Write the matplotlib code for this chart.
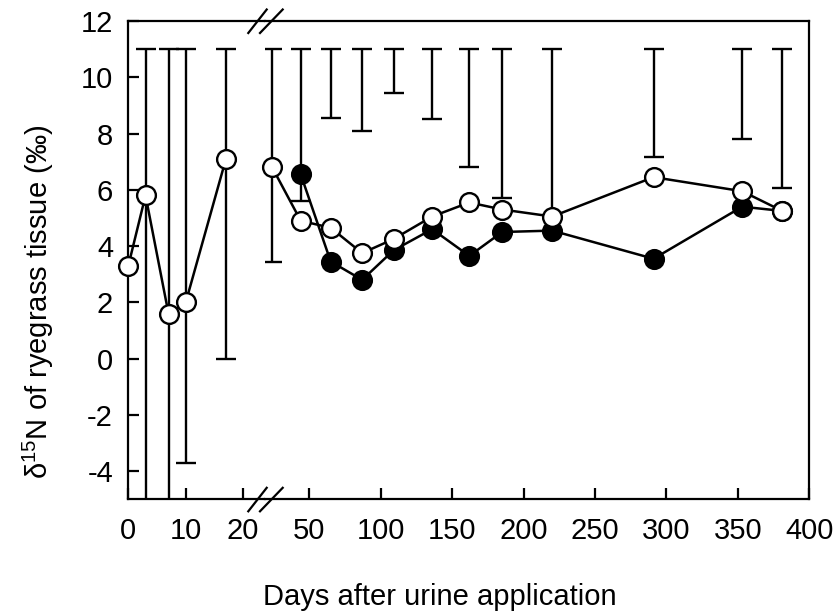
import matplotlib

matplotlib.use("Agg")

import matplotlib.pyplot as plt
import numpy as np

plt.rcParams["font.family"] = ["Liberation Sans", "DejaVu Sans"]
plt.rcParams["mathtext.default"] = "regular"
plt.rcParams["axes.unicode_minus"] = False

# early samplings (left of the axis break), open symbols only
early_days = [0, 3, 7, 10, 17]
early_open = [3.3, 5.8, 1.6, 2.0, 7.1]
early_err_days = [3, 7, 10, 17]
early_err_low = [-6.0, -6.0, -3.7, 0.0]
early_err_high = [11.0, 11.0, 11.0, 11.0]

# later samplings (right of the axis break)
late_open_days = [24, 44, 65, 87, 109, 136, 162, 185, 220, 291, 353, 381]
late_open = [6.8, 4.9, 4.65, 3.75, 4.25, 5.05, 5.55, 5.3, 5.05, 6.45, 5.95, 5.25]
late_filled_days = [44, 65, 87, 109, 136, 162, 185, 220, 291, 353, 381]
late_filled = [6.55, 3.45, 2.8, 3.85, 4.6, 3.65, 4.5, 4.55, 3.55, 5.4, 5.25]
late_err_days = [24, 44, 65, 87, 109, 136, 162, 185, 220, 291, 353, 381]
late_err_low = [3.45, 5.6, 8.55, 8.1, 9.45, 8.5, 6.8, 5.7, 5.1, 7.15, 7.8, 6.05]
late_err_high = [11.0, 11.0, 11.0, 11.0, 11.0, 11.0, 11.0, 11.0, 11.0, 11.0, 11.0, 11.0]

early_ticks = [0, 10, 20]
late_ticks = [50, 100, 150, 200, 250, 300, 350, 400]
y_ticks = [-4, -2, 0, 2, 4, 6, 8, 10, 12]

W, H = 840, 616
x0, xb, x1 = 128.3, 265.0, 809.3
y_top, y_bot = 21.0, 499.3
bottom = (H - y_bot) / H
height = (y_bot - y_top) / H

fig = plt.figure(figsize=(W / 100, H / 100), dpi=100)
ax_l = fig.add_axes([x0 / W, bottom, (xb - x0) / W, height])
ax_r = fig.add_axes([xb / W, bottom, (x1 - xb) / W, height])

line_kw = dict(color="black", linewidth=1.8, markersize=13.5, markeredgewidth=1.7,
               clip_on=False)
err_kw = dict(fmt="none", ecolor="black", elinewidth=1.7, capsize=7.2, capthick=1.7,
              zorder=1)


def draw_errors(ax, days, low, high):
    low = np.asarray(low)
    high = np.asarray(high)
    ax.errorbar(days, (low + high) / 2, yerr=(high - low) / 2, **err_kw)


draw_errors(ax_l, early_err_days, early_err_low, early_err_high)
ax_l.plot(early_days, early_open, marker="o", markerfacecolor="white", zorder=3, **line_kw)

draw_errors(ax_r, late_err_days, late_err_low, late_err_high)
ax_r.plot(late_filled_days, late_filled, marker="o", markerfacecolor="black", zorder=2,
          **line_kw)
ax_r.plot(late_open_days, late_open, marker="o", markerfacecolor="white", zorder=3,
          **line_kw)

ax_l.set_xlim(0, 23.8)
ax_r.set_xlim(19, 400)
for ax in (ax_l, ax_r):
    ax.set_ylim(-5, 12)
    for spine in ax.spines.values():
        spine.set_linewidth(1.6)
    ax.tick_params(direction="in", length=8, width=1.6, labelsize=21, pad=13)

ax_l.spines["right"].set_visible(False)
ax_r.spines["left"].set_visible(False)
ax_l.set_xticks(early_ticks)
ax_r.set_xticks(late_ticks)
ax_l.set_yticks(y_ticks)
ax_l.tick_params(axis="y", pad=11)
ax_r.set_yticks([])

# axis break marks on top and bottom spines
for y_pix in (y_top, y_bot):
    for dx0, dx1 in ((-16.7, 1.7), (-5.0, 17.7)):
        fig.add_artist(plt.Line2D(
            [(xb + dx0) / W, (xb + dx1) / W],
            [(H - y_pix - 12.0) / H, (H - y_pix + 11.5) / H],
            transform=fig.transFigure, color="black", linewidth=1.6,
        ))

fig.text(440 / W, 1 - 597 / H, "Days after urine application", ha="center", va="center",
         fontsize=21)
fig.text(38 / W, 1 - 302 / H, r"δ$^{15}$N of ryegrass tissue (‰)", ha="center",
         va="center", rotation=90, fontsize=21)

fig.savefig("out.png", dpi=100)
plt.close(fig)
